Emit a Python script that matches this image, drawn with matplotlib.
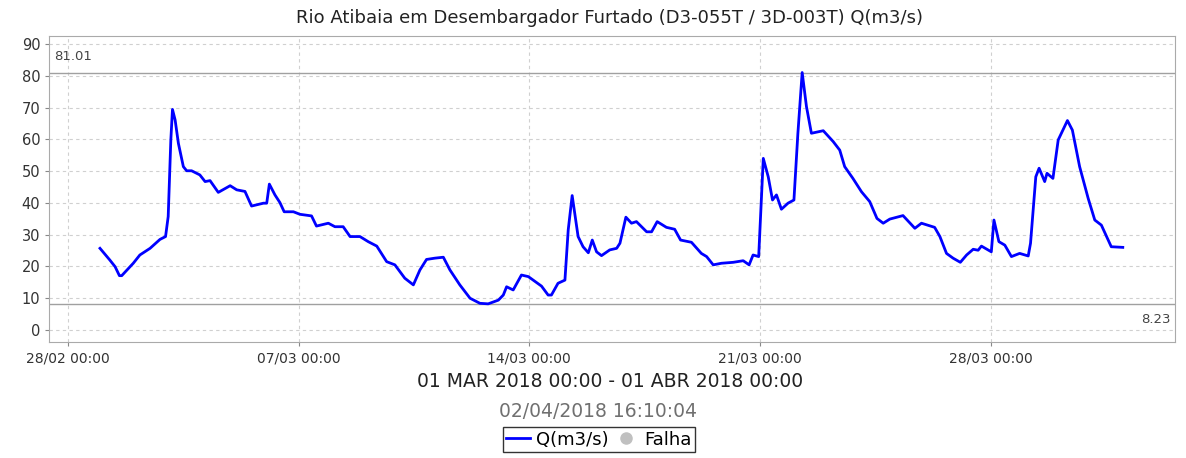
import numpy as np
import matplotlib
matplotlib.use("Agg")
import matplotlib.pyplot as plt
import matplotlib.dates as mdates
from matplotlib.lines import Line2D
from datetime import datetime, timedelta

# data (days after 28/02/2018 00:00, flow in m3/s)
start = datetime(2018, 2, 28)
days = [0.97, 1.27, 1.43, 1.56, 1.63, 1.98, 2.18, 2.49, 2.79, 2.96, 3.04, 3.12, 3.17, 3.25, 3.35,
        3.50, 3.60, 3.75, 4.00, 4.16, 4.31, 4.56, 4.92, 5.12, 5.37, 5.57, 5.93, 6.03, 6.11, 6.28,
        6.43, 6.56, 6.84, 7.04, 7.39, 7.54, 7.90, 8.10, 8.35, 8.56, 8.86, 9.11, 9.37, 9.67, 9.92,
        10.22, 10.48, 10.68, 10.88, 11.13, 11.39, 11.59, 11.89, 12.20, 12.50, 12.75, 13.06, 13.21,
        13.31, 13.51, 13.76, 13.97, 14.37, 14.57, 14.67, 14.87, 15.08, 15.18, 15.30, 15.48, 15.63,
        15.79, 15.91, 16.04, 16.19, 16.44, 16.65, 16.75, 16.93, 17.10, 17.25, 17.56, 17.71, 17.88,
        18.16, 18.41, 18.59, 18.92, 19.22, 19.38, 19.58, 19.83, 20.19, 20.49, 20.67, 20.79, 20.96,
        21.10, 21.25, 21.38, 21.50, 21.65, 21.85, 22.03, 22.15, 22.28, 22.41, 22.56, 22.92, 23.22,
        23.42, 23.57, 23.82, 24.08, 24.33, 24.55, 24.74, 24.94, 25.34, 25.70, 25.90, 26.30, 26.46,
        26.66, 26.86, 27.08, 27.27, 27.47, 27.62, 27.72, 28.02, 28.10, 28.25, 28.43, 28.63, 28.88,
        29.14, 29.21, 29.37, 29.47, 29.64, 29.71, 29.89, 30.05, 30.33, 30.48, 30.70, 30.96, 31.16,
        31.36, 31.66, 32.01]
flow = [25.7, 22.0, 19.9, 17.1, 17.1, 21.0, 23.6, 25.7, 28.5, 29.4, 35.7, 59.8, 69.4, 66.1, 58.7,
        51.4, 50.1, 50.1, 48.8, 46.7, 47.0, 43.3, 45.4, 44.1, 43.6, 39.0, 39.9, 39.9, 45.9, 42.5,
        40.1, 37.2, 37.2, 36.4, 35.9, 32.7, 33.6, 32.5, 32.5, 29.4, 29.4, 27.8, 26.4, 21.5, 20.5,
        16.3, 14.2, 18.9, 22.2, 22.6, 22.9, 18.9, 14.2, 10.0, 8.4, 8.23, 9.4, 11.0,
        13.6, 12.6, 17.3, 16.8, 13.8, 11.0, 11.0, 14.7, 15.7, 31.5, 42.3, 29.4, 26.2,
        24.3, 28.3, 24.6, 23.4, 25.2, 25.7, 27.3, 35.5, 33.6, 34.1, 30.9, 30.9, 34.1,
        32.3, 31.7, 28.3, 27.6, 24.1, 23.1, 20.5, 21.0, 21.3, 21.8, 20.5, 23.6, 23.1,
        54.0, 48.2, 40.9, 42.5, 38.0, 39.9, 40.9, 61.9, 81.01, 70.3, 61.9, 62.7, 59.3,
        56.6, 51.4, 47.7, 43.5, 40.4, 35.1, 33.6, 34.9, 36.0, 32.0, 33.6, 32.3, 29.4,
        24.1, 22.6, 21.3, 23.6, 25.4, 25.1, 26.4, 24.6, 34.6, 27.8, 26.7, 23.1, 24.1,
        23.3, 27.3, 48.2, 50.9, 46.7, 49.3, 47.7, 59.8, 65.9, 62.9, 51.4, 41.4, 34.6,
        33.0, 26.2, 26.0]
max_q = 81.01
min_q = 8.23
title = "Rio Atibaia em Desembargador Furtado (D3-055T / 3D-003T) Q(m3/s)"
period = "01 MAR 2018 00:00 - 01 ABR 2018 00:00"
stamp = "02/04/2018 16:10:04"

times = [start + timedelta(days=d) for d in days]

fig = plt.figure(figsize=(11.86, 4.58), dpi=100)
ax = fig.add_axes([0.0416, 0.2526, 0.949, 0.6688])

ax.plot(times, flow, color="#0000ff", lw=2.0, zorder=3)

# max / min reference lines with their values
ax.axhline(max_q, color="#a0a0a0", lw=1.0, zorder=2)
ax.axhline(min_q, color="#a0a0a0", lw=1.0, zorder=2)
ax.text(0.004, max_q + 3.0, "%.2f" % max_q, transform=ax.get_yaxis_transform(),
        fontsize=9.5, color="#444444", ha="left", va="bottom")
ax.text(0.996, min_q - 3.0, "%.2f" % min_q, transform=ax.get_yaxis_transform(),
        fontsize=9.5, color="#444444", ha="right", va="top")

ax.set_xlim(start + timedelta(days=-0.567), start + timedelta(days=33.59))
ax.set_ylim(-3.87, 92.5)
ax.set_yticks(np.arange(0, 91, 10))
ax.set_xticks([start + timedelta(days=7 * k) for k in range(5)])
ax.xaxis.set_major_formatter(mdates.DateFormatter("%d/%m %H:%M"))

ax.grid(True, color="#d0d0d0", ls=(0, (3, 3)), lw=0.8)
for s in ax.spines.values():
    s.set_color("#aaaaaa")
ax.tick_params(axis="both", colors="#888888", labelcolor="#333333", length=3)
ax.tick_params(axis="y", labelsize=10.5)
ax.tick_params(axis="x", labelsize=10)

fig.text(0.514, 0.96, title, ha="center", va="center", fontsize=13, color="#222222")
fig.text(0.514, 0.168, period, ha="center", va="center", fontsize=13.5, color="#222222")
fig.text(0.504, 0.101, stamp, ha="center", va="center", fontsize=13.5, color="#707070")

handles = [Line2D([], [], color="#0000ff", lw=2),
           Line2D([], [], color="#c0c0c0", marker="o", ls="none", markersize=8)]
leg = fig.legend(handles, ["Q(m3/s)", "Falha"], loc="center", bbox_to_anchor=(0.505, 0.04),
                 ncol=2, fontsize=13, frameon=True, fancybox=False, handlelength=1.3,
                 handletextpad=0.35, columnspacing=0.3, borderpad=0.2, borderaxespad=0)
leg.get_frame().set_edgecolor("#000000")
leg.get_frame().set_linewidth(1.0)

fig.savefig("out.png", dpi=100)
